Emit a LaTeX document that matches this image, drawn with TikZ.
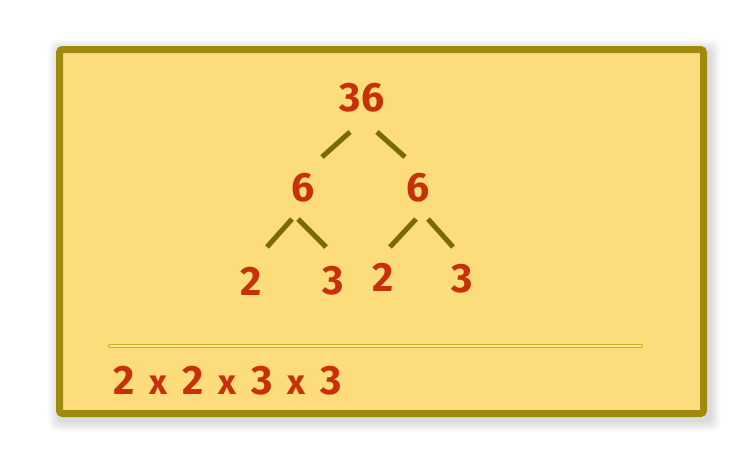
\documentclass[tikz,border=0pt]{standalone}
\usepackage{fontspec}
\setmainfont{Fira Sans}
\begin{document}
\begin{tikzpicture}[x=1pt,y=-1pt,
  num/.style={text=numred,font=\fontsize{41}{41}\selectfont\bfseries,inner sep=0pt,anchor=center},
  branch/.style={draw=branchcol,line width=5pt},
]
\definecolor{numred}{HTML}{C8300A}
\definecolor{branchcol}{HTML}{7A6908}
\definecolor{boxfill}{HTML}{FDDC7B}
\definecolor{boxedge}{HTML}{A08A0E}
\definecolor{rulecol}{HTML}{C9B317}
\definecolor{rulein}{HTML}{FDE7A0}
\newcommand{\tms}{\hspace{15pt}{\fontsize{35}{35}\selectfont x}\hspace{15pt}}
\useasboundingbox (0,0) rectangle (750,450);
\fill[white] (0,0) rectangle (750,450);
% soft shadow
\foreach \i in {1,...,12}{
  \fill[black,opacity=0.011,rounded corners=8pt] (56-\i*0.9+3,46-\i*0.9+4) rectangle (707+\i*0.9+3,417+\i*0.9+4);
}
\draw[draw=boxedge,fill=boxfill,line width=7pt,rounded corners=3pt] (59.5,49.5) rectangle (703.5,413.5);
% numbers
\node[num] (n36) at (362,98) {36};
\node[num] (n6a) at (303,188) {6};
\node[num] (n6b) at (418,188) {6};
\node[num] (n2a) at (251,281) {2};
\node[num] (n3a) at (333,281) {3};
\node[num] (n2b) at (383,277) {2};
\node[num] (n3b) at (462,279) {3};
% branch end points
\coordinate (a1) at (350,132); \coordinate (a2) at (322,157);
\coordinate (b1) at (377,132); \coordinate (b2) at (405,157);
\coordinate (c1) at (292,219); \coordinate (c2) at (267,247);
\coordinate (d1) at (298,219); \coordinate (d2) at (326,247);
\coordinate (e1) at (416,219); \coordinate (e2) at (390,247);
\coordinate (f1) at (428,219); \coordinate (f2) at (453,247);
\draw[branch] (a1) -- (a2);
\draw[branch] (b1) -- (b2);
\draw[branch] (c1) -- (c2);
\draw[branch] (d1) -- (d2);
\draw[branch] (e1) -- (e2);
\draw[branch] (f1) -- (f2);
% rule
\coordinate (r1) at (110,346); \coordinate (r2) at (641,346);
\draw[draw=rulecol,line width=1.2pt,double=rulein,double distance=1.2pt,line cap=round] (r1) -- (r2);
% result
\node[num,anchor=west] (res) at (113,381) {2\tms 2\tms 3\tms 3};
\end{tikzpicture}
\end{document}
